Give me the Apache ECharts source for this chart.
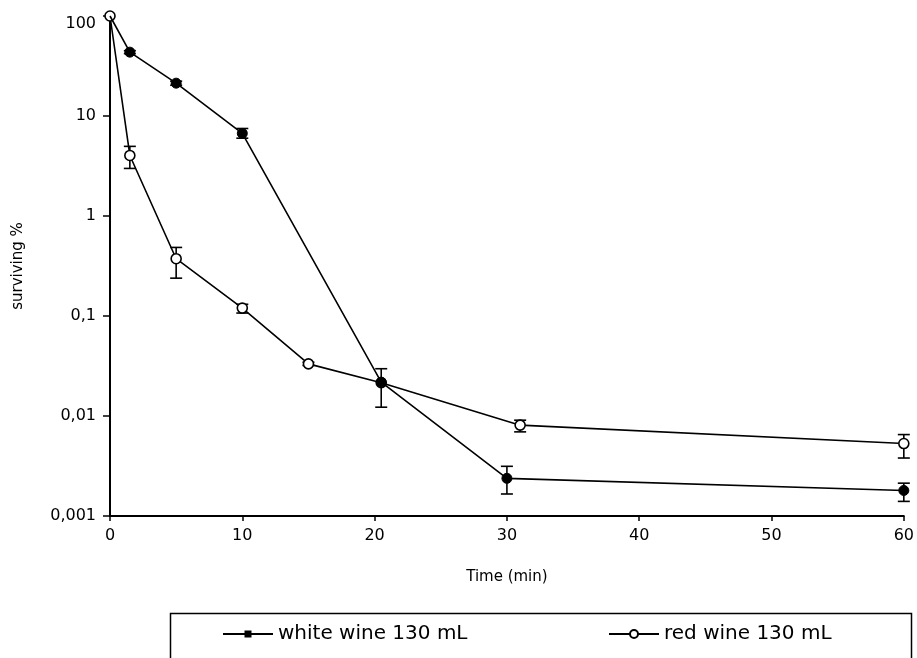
<!DOCTYPE html>
<html>
<head>
<meta charset="utf-8">
<title>Survival in wine</title>
<script src="https://cdn.jsdelivr.net/npm/echarts@6/dist/echarts.min.js"></script>
<style>
  html, body { margin: 0; padding: 0; background: #fff; }
  #chart { width: 917px; height: 658px; }
</style>
</head>
<body>
<div id="chart"></div>
<script>
// Time points (min)
const whiteTimes = [0, 1.5, 5, 10, 20.5, 30, 60];
const redTimes   = [0, 1.5, 5, 10, 15, 20.5, 31, 60];

// Surviving % (mean) with error-bar bounds
const whiteMean  = [100, 43.5, 21.3, 6.7, 0.0218, 0.00238, 0.0018];
const whiteUpper = [100, 45.0, 22.3, 7.5, 0.0297, 0.00314, 0.00213];
const whiteLower = [100, 42.0, 20.3, 6.0, 0.01225, 0.00166, 0.0014];

const redMean  = [100, 4.03, 0.374, 0.12, 0.0332, 0.0215, 0.0081, 0.0053];
const redUpper = [100, 4.97, 0.485, 0.131, 0.0345, 0.0215, 0.00908, 0.00652];
const redLower = [100, 2.99, 0.239, 0.107, 0.0320, 0.0215, 0.00694, 0.0038];

// Axis tick labels (decimal comma)
const yTickLabels = ['0,001', '0,01', '0,1', '1', '10', '100'];
const xTickLabels = ['0', '10', '20', '30', '40', '50', '60'];

const seriesNames = ['white wine 130 mL', 'red wine 130 mL'];

const FONT = 'DejaVu Sans';

function pairs(xs, ys) { return xs.map((x, i) => [x, ys[i]]); }
function bars(xs, lo, hi) {
  const out = [];
  xs.forEach((x, i) => { if (hi[i] !== lo[i]) out.push([x, lo[i], hi[i]]); });
  return out;
}

function errorBarItem(params, api) {
  const x = api.value(0);
  const lo = api.coord([x, api.value(1)]);
  const hi = api.coord([x, api.value(2)]);
  const cap = 6;
  const style = { stroke: '#000', lineWidth: 1.6, fill: null };
  return {
    type: 'group',
    children: [
      { type: 'line', shape: { x1: hi[0], y1: hi[1], x2: lo[0], y2: lo[1] }, style },
      { type: 'line', shape: { x1: hi[0] - cap, y1: hi[1], x2: hi[0] + cap, y2: hi[1] }, style },
      { type: 'line', shape: { x1: lo[0] - cap, y1: lo[1], x2: lo[0] + cap, y2: lo[1] }, style }
    ]
  };
}

// The shared starting point (t = 0) shows the open marker on top
const whiteData = pairs(whiteTimes, whiteMean).map((p, i) =>
  i === 0 ? { value: p, symbol: 'none' } : p);

// Legend icon: line with a small filled square; tiny corner dots pin the 50x10 box
const whiteIcon = 'path://M0,0H0.01V0.01H0Z M49.99,9.99H50V10H49.99Z ' +
                  'M0,4.1H50V5.9H0Z M21.5,1.5H28.5V8.5H21.5Z';

const chart = echarts.init(document.getElementById('chart'), null, { renderer: 'canvas' });

const legendText = { fontFamily: FONT, fontSize: 20, color: '#000' };

chart.setOption({
  animation: false,
  backgroundColor: '#fff',
  grid: { left: 110, right: 11, top: 16, bottom: 142, containLabel: false },
  xAxis: {
    type: 'value',
    min: 0, max: 60, interval: 10,
    name: 'Time (min)',
    nameLocation: 'middle',
    nameGap: 54,
    nameTextStyle: { fontFamily: FONT, fontSize: 15, color: '#000' },
    axisLine: { show: true, onZero: false, lineStyle: { color: '#000', width: 2 } },
    axisTick: { show: true, length: 5, lineStyle: { color: '#000', width: 1.5 } },
    axisLabel: {
      margin: 12, fontFamily: FONT, fontSize: 16, color: '#000',
      formatter: v => xTickLabels[Math.round(v / 10)]
    },
    splitLine: { show: false }
  },
  yAxis: {
    type: 'log',
    logBase: 10,
    min: 0.001, max: 100,
    name: 'surviving %',
    nameLocation: 'middle',
    nameGap: 84,
    nameRotate: 90,
    nameTextStyle: { fontFamily: FONT, fontSize: 15, color: '#000' },
    axisLine: { show: true, lineStyle: { color: '#000', width: 2 } },
    axisTick: { show: true, length: 7, lineStyle: { color: '#000', width: 1.5 } },
    axisLabel: {
      margin: 14, fontFamily: FONT, fontSize: 16, color: '#000',
      formatter: v => {
        const lbl = yTickLabels[Math.round(Math.log10(v)) + 3];
        return v >= 100 ? '{top|' + lbl + '}' : lbl;
      },
      rich: { top: { fontFamily: FONT, fontSize: 16, color: '#000', padding: [16, 0, 0, 0] } }
    },
    splitLine: { show: false }
  },
  legend: [
    {
      left: 218, top: 619,
      itemWidth: 50, itemHeight: 10, itemGap: 0,
      textStyle: legendText,
      data: [{
        name: seriesNames[0], icon: whiteIcon,
        itemStyle: { color: '#000', borderWidth: 0 }
      }]
    },
    {
      left: 603, top: 619,
      itemWidth: 50, itemHeight: 10, itemGap: 0,
      textStyle: legendText,
      data: [seriesNames[1]]
    }
  ],
  graphic: [
    {
      type: 'rect', left: 168, top: 611, silent: true,
      shape: { width: 741, height: 60 },
      style: { fill: null, stroke: '#000', lineWidth: 1.5 }
    }
  ],
  series: [
    {
      type: 'custom', name: 'white error', renderItem: errorBarItem,
      encode: { x: 0, y: [1, 2] }, data: bars(whiteTimes, whiteLower, whiteUpper), z: 1,
      silent: true
    },
    {
      type: 'custom', name: 'red error', renderItem: errorBarItem,
      encode: { x: 0, y: [1, 2] }, data: bars(redTimes, redLower, redUpper), z: 1,
      silent: true
    },
    {
      name: seriesNames[1], type: 'line', z: 3,
      data: pairs(redTimes, redMean),
      symbol: 'circle', symbolSize: 10,
      itemStyle: { color: '#fff', borderColor: '#000', borderWidth: 1.6 },
      lineStyle: { color: '#000', width: 1.6 }
    },
    {
      name: seriesNames[0], type: 'line', z: 4,
      data: whiteData,
      symbol: 'circle', symbolSize: 10,
      itemStyle: { color: '#000', borderColor: '#000', borderWidth: 1 },
      lineStyle: { color: '#000', width: 1.6 }
    }
  ]
});
</script>
</body>
</html>
